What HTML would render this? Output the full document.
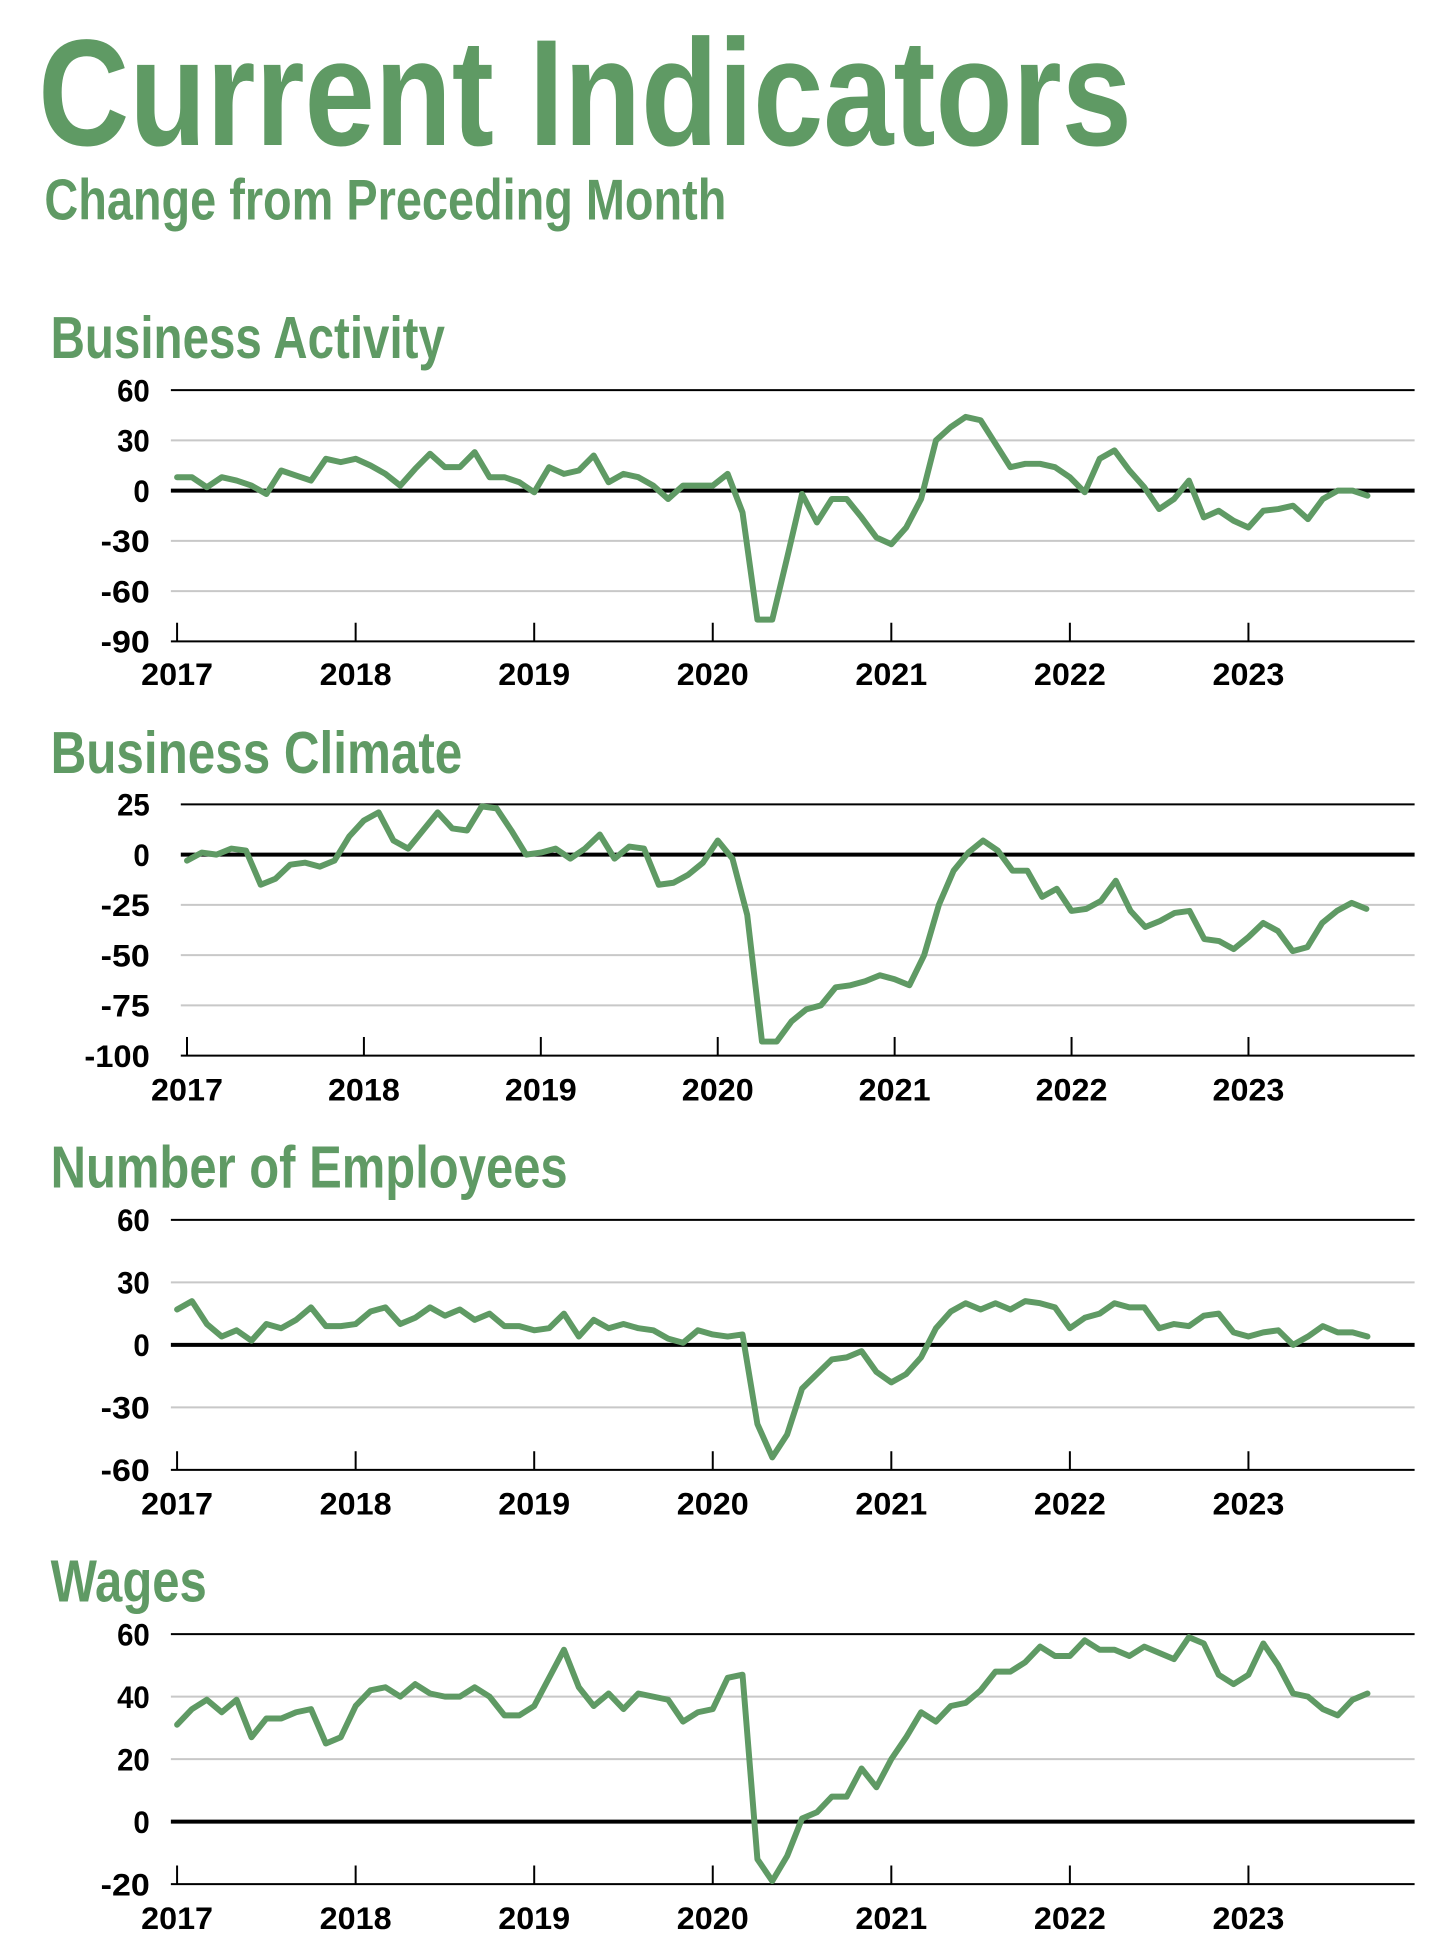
<!DOCTYPE html>
<html><head><meta charset="utf-8"><title>Current Indicators</title>
<style>
html,body{margin:0;padding:0;background:#fff;}
svg{display:block;}
text{font-family:"Liberation Sans",sans-serif;font-weight:bold;}
</style></head>
<body>
<svg xmlns="http://www.w3.org/2000/svg" width="1456" height="1946" viewBox="0 0 1456 1946">
<g id="chart" transform="matrix(1.24,0,0,1.244,1,-3)">
<text x="30" y="119" font-size="122" fill="#5f9a64" textLength="882" lengthAdjust="spacingAndGlyphs">Current Indicators</text>
<text x="35" y="179" font-size="46" fill="#5f9a64" textLength="550" lengthAdjust="spacingAndGlyphs">Change from Preceding Month</text>
</g>
</svg>
<script>
const years = ["2017","2018","2019","2020","2021","2022","2023"];
const activityVals = [8,8,2,8,6,3,-2,12,9,6,19,17, 19,15,10,3,13,22,14,14,23,8,8,5, -1,14,10,12,21,5,10,8,3,-5,3,3, 3,10,-13,-77,-77,-40,-2,-19,-5,-5,-16,-28, -32,-22,-5,30,38,44,42,28,14,16,16,14, 8,-1,19,24,12,2,-11,-5,6,-16,-12,-18, -22,-12,-11,-9,-17,-5,0,0,-3];
const climateVals = [-3,1,0,3,2,-15,-12,-5,-4,-6,-3,9, 17,21,7,3,12,21,13,12,24,23,12,0, 1,3,-2,3,10,-2,4,3,-15,-14,-10,-4, 7,-2,-30,-93,-93,-83,-77,-75,-66,-65,-63,-60, -62,-65,-50,-25,-8,1,7,2,-8,-8,-21,-17, -28,-27,-23,-13,-28,-36,-33,-29,-28,-42,-43,-47, -41,-34,-38,-48,-46,-34,-28,-24,-27];
const employeesVals = [17,21,10,4,7,2,10,8,12,18,9,9, 10,16,18,10,13,18,14,17,12,15,9,9, 7,8,15,4,12,8,10,8,7,3,1,7, 5,4,5,-38,-54,-43,-21,-14,-7,-6,-3,-13, -18,-14,-6,8,16,20,17,20,17,21,20,18, 8,13,15,20,18,18,8,10,9,14,15,6, 4,6,7,0,4,9,6,6,4];
const wagesVals = [31,36,39,35,39,27,33,33,35,36,25,27, 37,42,43,40,44,41,40,40,43,40,34,34, 37,46,55,43,37,41,36,41,40,39,32,35, 36,46,47,-12,-19,-11,1,3,8,8,17,11, 20,27,35,32,37,38,42,48,48,51,56,53, 53,58,55,55,53,56,54,52,59,57,47,44, 47,57,50,41,40,36,34,39,41];
const activityTicks = [60,30,0,-30,-60,-90];
const climateTicks = [25,0,-25,-50,-75,-100];
const employeesTicks = [60,30,0,-30,-60];
const wagesTicks = [60,40,20,0,-20];

const NS = "http://www.w3.org/2000/svg";
const svg = document.getElementById("chart");
function mk(tag, attrs, parent){
  const e = document.createElementNS(NS, tag);
  for (const k in attrs) e.setAttribute(k, attrs[k]);
  (parent||svg).appendChild(e);
  return e;
}
function drawChart(key, title, titleW, titleY, vals, ticks, x2017, yearW, top, bottom, labelY, plotLeft){
  const g = mk("g", {});
  
  
  const t = mk("text", {x:40, y:titleY, "font-size":48, fill:"#5f9a64", textLength:titleW, lengthAdjust:"spacingAndGlyphs"}, g);
  t.textContent = title;
  
  
  const vmax = ticks[0], vmin = ticks[ticks.length-1];
  const ys = v => top + (vmax - v) / (vmax - vmin) * (bottom - top);
  const xs = i => x2017 + i * yearW / 12;
  const right = 1140;
  ticks.forEach((v, idx) => {
    const edge = idx === 0 || idx === ticks.length-1;
    const zero = v === 0;
    const ln = mk("line", {x1:plotLeft, x2:right, y1:ys(v), y2:ys(v), stroke: (edge||zero) ? "#000" : "#c8c8c8", "stroke-width": zero ? 3.2 : 1.6}, g);
    
    
    const s = String(v);
    const lb = mk("text", {x:120, y:ys(v)+9, "font-size":25, "text-anchor":"end", fill:"#000", textLength:s.length*13.2, lengthAdjust:"spacingAndGlyphs"}, g);
    lb.textContent = s;
    
    
  });
  years.forEach((yr, k) => {
    const x = x2017 + k * yearW;
    const tk = mk("line", {x1:x, x2:x, y1:bottom-15, y2:bottom, stroke:"#000", "stroke-width":1.6}, g);
    
    
    const lb = mk("text", {x:x, y:labelY, "font-size":25, "text-anchor":"middle", fill:"#000", textLength:58, lengthAdjust:"spacingAndGlyphs"}, g);
    lb.textContent = yr;
    
    
  });
  const d = vals.map((v, i) => (i ? "L" : "M") + xs(i).toFixed(2) + "," + ys(v).toFixed(2)).join(" ");
  const p = mk("path", {d:d, fill:"none", stroke:"#5f9a64", "stroke-width":4.8, "stroke-linejoin":"round", "stroke-linecap":"round"}, g);
  
  
}
drawChart("business-activity", "Business Activity", 318, 290, activityVals, activityTicks, 142, 144, 316, 518, 553, 137);
drawChart("business-climate", "Business Climate", 332, 624, climateVals, climateTicks, 150, 142.67, 649, 851, 887, 145);
drawChart("number-of-employees", "Number of Employees", 417, 957, employeesVals, employeesTicks, 142, 144, 983, 1184, 1220, 137);
drawChart("wages", "Wages", 126, 1290, wagesVals, wagesTicks, 142, 144, 1316, 1517, 1553, 137);
</script>
</body></html>
